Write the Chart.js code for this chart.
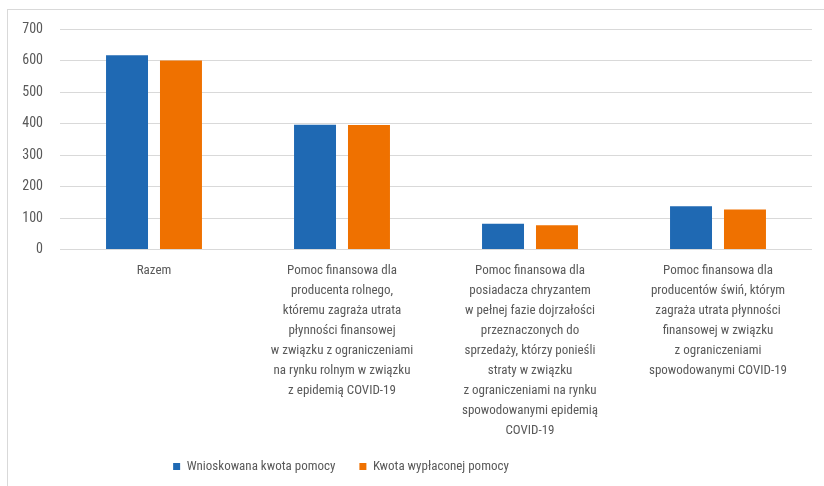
<!DOCTYPE html>
<html>
<head>
<meta charset="utf-8">
<script src="https://cdn.jsdelivr.net/npm/chart.js@4"></script>
<style>
  html, body { margin: 0; padding: 0; background: #fff; }
  #frame { position: absolute; left: 7px; top: 9px; width: 900px; height: 600px; border-left: 1px solid #d9d9d9; border-top: 1px solid #d9d9d9; }
  #wrap { position: absolute; left: 0; top: 0; width: 824px; height: 486px; }
</style>
</head>
<body>
<div id="frame"></div>
<div id="wrap"><canvas id="c" width="824" height="486"></canvas></div>
<script>
const categories = [
  ["Razem"],
  ["Pomoc finansowa dla", "producenta rolnego,", "któremu zagraża utrata", "płynności finansowej", "w związku z ograniczeniami", "na rynku rolnym w związku", "z epidemią COVID-19"],
  ["Pomoc finansowa dla", "posiadacza chryzantem", "w pełnej fazie dojrzałości", "przeznaczonych do", "sprzedaży, którzy ponieśli", "straty w związku", "z ograniczeniami na rynku", "spowodowanymi epidemią", "COVID-19"],
  ["Pomoc finansowa dla", "producentów świń, którym", "zagraża utrata płynności", "finansowej w związku", "z ograniczeniami", "spowodowanymi COVID-19"]
];
const seriesNames = ["Wnioskowana kwota pomocy", "Kwota wypłaconej pomocy"];
const requested = [618, 397, 82, 138];
const paid = [601, 396, 77, 127];
const yTicks = [0, 100, 200, 300, 400, 500, 600, 700];

const FONT = "'Roboto Condensed', Roboto, sans-serif";
const TXT = '#595959';

const legendShift = {
  id: 'legendShift',
  afterLayout(chart) {
    const lg = chart.legend;
    if (lg) { lg.left = 0; lg.right = 682; }
  }
};

new Chart(document.getElementById('c'), {
  type: 'bar',
  data: {
    labels: categories,
    datasets: [
      { label: seriesNames[0], data: requested, backgroundColor: '#1f69b3', borderWidth: 0 },
      { label: seriesNames[1], data: paid, backgroundColor: '#ef7100', borderWidth: 0 }
    ]
  },
  plugins: [legendShift],
  options: {
    responsive: false,
    animation: false,
    devicePixelRatio: 1,
    datasets: { bar: { categoryPercentage: 0.574, barPercentage: 0.778 } },
    layout: { padding: { top: 29.5, right: 12, left: 0, bottom: 3 } },
    plugins: {
      tooltip: { enabled: false },
      legend: {
        position: 'bottom',
        labels: {
          color: TXT,
          font: { family: FONT, size: 13 },
          boxWidth: 7, boxHeight: 7,
          padding: 24
        }
      }
    },
    scales: {
      x: {
        grid: { display: false, drawTicks: false },
        border: { display: false },
        ticks: {
          autoSkip: false, maxRotation: 0, minRotation: 0,
          color: TXT,
          font: { family: FONT, size: 13, lineHeight: 20 / 13 },
          padding: 11
        },
        afterFit: (s) => { s.height = 186.5; }
      },
      y: {
        min: 0, max: 700,
        afterBuildTicks: (s) => { s.ticks = yTicks.map(v => ({ value: v })); },
        grid: { color: '#d9d9d9', lineWidth: 1, drawTicks: false },
        border: { display: false },
        ticks: {
          color: TXT,
          font: { family: FONT, size: 14 },
          padding: 17
        },
        afterFit: (s) => { s.width = 60; }
      }
    }
  }
});
</script>
</body>
</html>
